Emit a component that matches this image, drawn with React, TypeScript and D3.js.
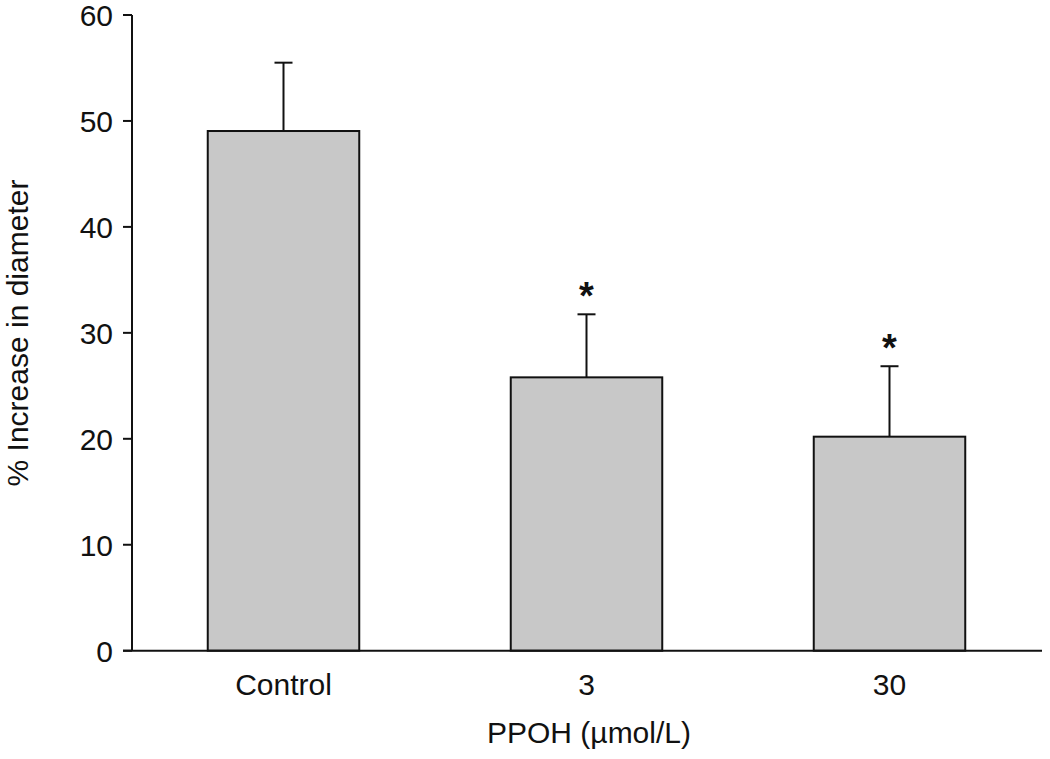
import React from "react";
import * as d3 from "d3";

const categories = ["Control", "3", "30"];
const means = [49.05, 25.8, 20.2];
const errors = [6.45, 5.95, 6.65];
const significant = [false, true, true];
const yTicks = [0, 10, 20, 30, 40, 50, 60];

const W = 1050;
const H = 759;
const margin = { left: 132, right: 8, top: 15, bottom: 108 };
const FONT = "'Liberation Sans', Arial, Helvetica, sans-serif";

export default function App() {
  const x = d3
    .scaleBand<string>()
    .domain(categories)
    .range([margin.left, 1041])
    .paddingInner(0.5)
    .paddingOuter(0.25);
  const y = d3.scaleLinear().domain([0, 60]).range([650.7, 15]);
  const bw = x.bandwidth();

  return (
    <svg
      width={W}
      height={H}
      style={{ position: "absolute", left: 0, top: 0, background: "#fff" }}
      fontFamily={FONT}
    >
      {categories.map((c, i) => {
        const x0 = x(c)!;
        const cx = x0 + bw / 2;
        const top = y(means[i]);
        const et = y(means[i] + errors[i]);
        return (
          <g key={c}>
            <line x1={cx} x2={cx} y1={top} y2={et} stroke="#111" strokeWidth={2} />
            <line x1={cx - 9} x2={cx + 9} y1={et} y2={et} stroke="#111" strokeWidth={2} />
            <rect
              x={x0}
              y={top}
              width={bw}
              height={y(0) - top}
              fill="#c8c8c8"
              stroke="#111"
              strokeWidth={2}
            />
            {significant[i] && (
              <text
                x={cx}
                y={et - 5}
                textAnchor="middle"
                fontSize={38}
                fontWeight="bold"
                fill="#111"
              >
                *
              </text>
            )}
            <text x={cx} y={695} textAnchor="middle" fontSize={30} fill="#111">
              {c}
            </text>
          </g>
        );
      })}
      <line x1={margin.left} x2={margin.left} y1={y(60)} y2={y(0)} stroke="#111" strokeWidth={2} />
      {yTicks.map((t) => (
        <g key={t}>
          <line x1={123} x2={margin.left} y1={y(t)} y2={y(t)} stroke="#111" strokeWidth={2} />
          <text
            x={113}
            y={y(t)}
            dy="0.36em"
            textAnchor="end"
            fontSize={30}
            fill="#111"
          >
            {t}
          </text>
        </g>
      ))}
      <line x1={123} x2={1042} y1={y(0)} y2={y(0)} stroke="#111" strokeWidth={2} />
      <text x={589} y={743} textAnchor="middle" fontSize={30} fill="#111">
        PPOH (µmol/L)
      </text>
      <text
        transform={`translate(28, 333) rotate(-90)`}
        textAnchor="middle"
        fontSize={30}
        fill="#111"
      >
        % Increase in diameter
      </text>
    </svg>
  );
}
